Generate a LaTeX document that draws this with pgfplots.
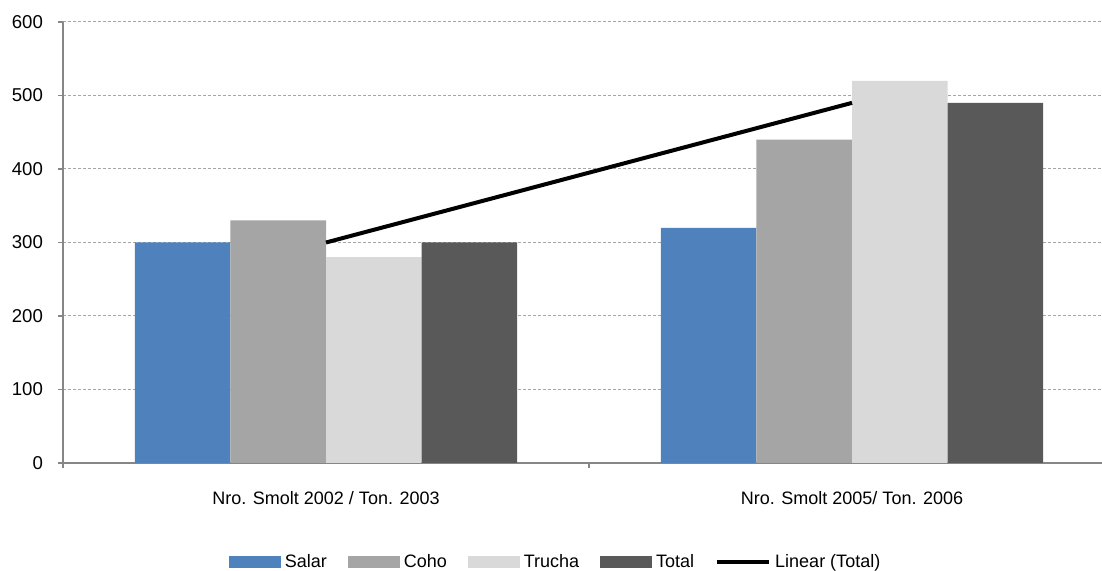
\documentclass[border=0pt]{standalone}
\usepackage{fontspec}
\setmainfont{Liberation Sans}
\usepackage{pgfplots}
\pgfplotsset{compat=1.18}

\definecolor{salar}{HTML}{4F81BD}
\definecolor{coho}{HTML}{A5A5A5}
\definecolor{trucha}{HTML}{D9D9D9}
\definecolor{total}{HTML}{595959}
\definecolor{axisgray}{HTML}{868686}
\definecolor{gridgray}{HTML}{A6A6A6}

\begin{document}
\begin{tikzpicture}
\path[use as bounding box] (0,0) rectangle (551pt,285.5pt);
\begin{axis}[
    at={(31.5pt,54pt)}, anchor=south west,
    scale only axis, width=519.5pt, height=220.5pt,
    xmin=-0.5, xmax=1.4753, ymin=0, ymax=600,
    axis x line=bottom, axis y line=left,
    axis line style={-, draw=axisgray, line width=0.75pt},
    tick align=outside, major tick length=2.5pt,
    tick style={draw=axisgray, line width=0.75pt},
    ytick={0,100,...,600},
    ymajorgrids,
    major grid style={draw=gridgray, line width=0.5pt, dash pattern=on 1.5pt off 1pt},
    xtick={0,1},
    xticklabels={Nro. Smolt 2002 / Ton. 2003, Nro. Smolt 2005/ Ton. 2006},
    xtick style={draw=none},
    extra x ticks={-0.5,0.5},
    extra x tick labels={},
    extra x tick style={grid=none, xtick style={draw=axisgray, line width=0.75pt}},
    ticklabel style={font=\fontsize{9}{10}\selectfont},
    /pgf/number format/assume math mode=true,
    xticklabel style={yshift=-8pt},
    yticklabel style={xshift=-4pt, font=\fontsize{9.3}{10}\selectfont},
    bar width=0.1816,
    legend style={
        at={(0.475,-0.2245)}, anchor=center,
        draw=none, fill=none,
        legend columns=-1,
        font=\fontsize{9}{10}\selectfont,
        /tikz/every even column/.append style={column sep=8.5pt},
        nodes={inner sep=2pt},
    },
    clip=false,
]
\addplot[ybar, bar shift=-0.2724, fill=salar, draw=none,
    legend image code/.code={\fill[salar] (0pt,-3pt) rectangle (26pt,3pt);}]
    coordinates {(0,300) (1,320)};
\addlegendentry{Salar}
\addplot[ybar, bar shift=-0.0908, fill=coho, draw=none,
    legend image code/.code={\fill[coho] (0pt,-3pt) rectangle (26pt,3pt);}]
    coordinates {(0,330) (1,440)};
\addlegendentry{Coho}
\addplot[ybar, bar shift=0.0908, fill=trucha, draw=none,
    legend image code/.code={\fill[trucha] (0pt,-3pt) rectangle (26pt,3pt);}]
    coordinates {(0,280) (1,520)};
\addlegendentry{Trucha}
\addplot[ybar, bar shift=0.2724, fill=total, draw=none,
    legend image code/.code={\fill[total] (0pt,-3pt) rectangle (26pt,3pt);}]
    coordinates {(0,300) (1,490)};
\addlegendentry{Total}
\addplot[black, line width=2pt, mark=none,
    legend image code/.code={\draw[black, line width=2pt] (0pt,0pt) -- (26pt,0pt);}]
    coordinates {(0,300) (1,490)};
\addlegendentry{Linear (Total)}
\end{axis}
\end{tikzpicture}
\end{document}
